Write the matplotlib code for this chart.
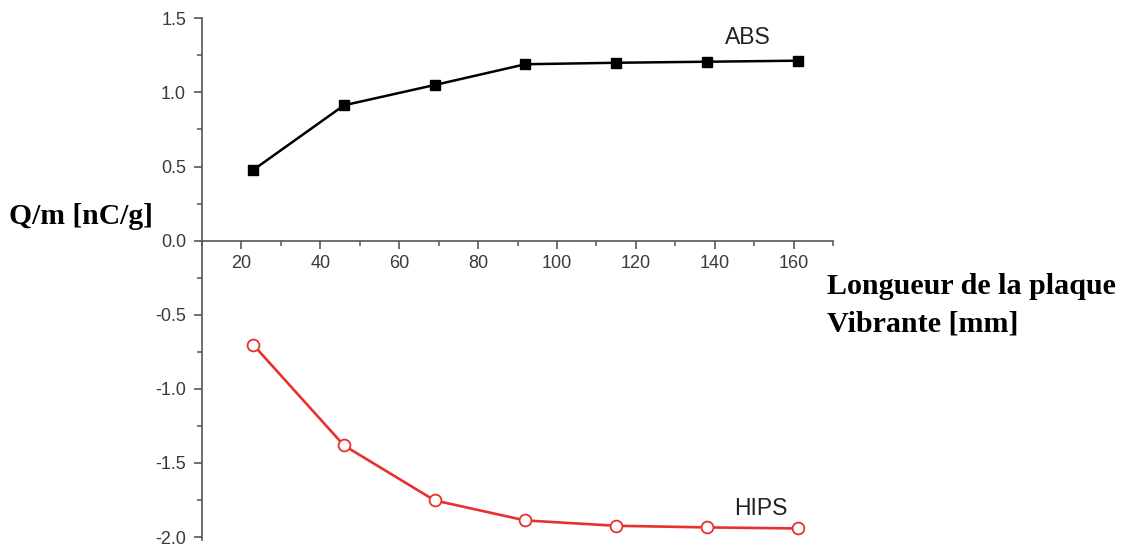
import matplotlib.pyplot as plt
from matplotlib.ticker import MultipleLocator

# Longueur de la plaque vibrante [mm]
longueur = [23, 46, 69, 92, 115, 138, 161]
# Q/m [nC/g]
q_abs = [0.477, 0.913, 1.05, 1.19, 1.20, 1.207, 1.214]
q_hips = [-0.703, -1.382, -1.753, -1.888, -1.924, -1.935, -1.942]

rouge = '#e8312e'
gris = '#555555'

fig = plt.figure(figsize=(11.25, 5.47), dpi=100)
ax = fig.add_axes([202 / 1125, 1 - 540 / 547, 631 / 1125, (540 - 18.3) / 547])

ax.plot(longueur, q_abs, color='black', lw=1.8, marker='s', ms=7.5,
        mfc='black', mec='black', zorder=3)
ax.plot(longueur, q_hips, color=rouge, lw=1.9, marker='o', ms=8.5,
        mfc='white', mec=rouge, mew=1.3, zorder=3)

ax.set_xlim(10, 170)
ax.set_ylim(-2.02, 1.5)

# axes a l'origine, comme dans Origin
ax.spines['bottom'].set_position(('data', 0))
ax.spines['top'].set_visible(False)
ax.spines['right'].set_visible(False)
for s in ['left', 'bottom']:
    ax.spines[s].set_color(gris)
    ax.spines[s].set_linewidth(1.2)

ax.xaxis.set_major_locator(MultipleLocator(20))
ax.xaxis.set_minor_locator(MultipleLocator(10))
ax.yaxis.set_major_locator(MultipleLocator(0.5))
ax.yaxis.set_minor_locator(MultipleLocator(0.25))
ax.set_xticks([20, 40, 60, 80, 100, 120, 140, 160])

ax.tick_params(which='major', direction='out', length=6, width=1.2,
               color=gris, labelcolor='#3a3a3a', labelsize=13)
ax.tick_params(which='minor', direction='out', length=3.5, width=1.1, color=gris)
ax.tick_params(axis='x', which='major', pad=4)
ax.tick_params(axis='y', which='major', pad=5.5)
for lab in ax.get_xticklabels() + ax.get_yticklabels():
    lab.set_fontfamily('Liberation Sans')
ax.yaxis.set_major_formatter(plt.FuncFormatter(lambda v, p: f'{v:.1f}'))

ax.text(148.3, 1.37, 'ABS', fontsize=16.5, family='Liberation Sans',
        color='#222222', ha='center', va='center')
ax.text(151.8, -1.805, 'HIPS', fontsize=16.5, family='Liberation Sans',
        color='#222222', ha='center', va='center')

fig.text(9 / 1125, 1 - 217 / 547, 'Q/m [nC/g]', fontsize=21.3,
         family='Liberation Serif', weight='bold', ha='left', va='center')
fig.text(827 / 1125, 1 - 273 / 547, 'Longueur de la plaque\nVibrante [mm]',
         fontsize=21.6, family='Liberation Serif', weight='bold',
         ha='left', va='top', linespacing=1.5)

fig.savefig('out.png', dpi=100, facecolor='white')
